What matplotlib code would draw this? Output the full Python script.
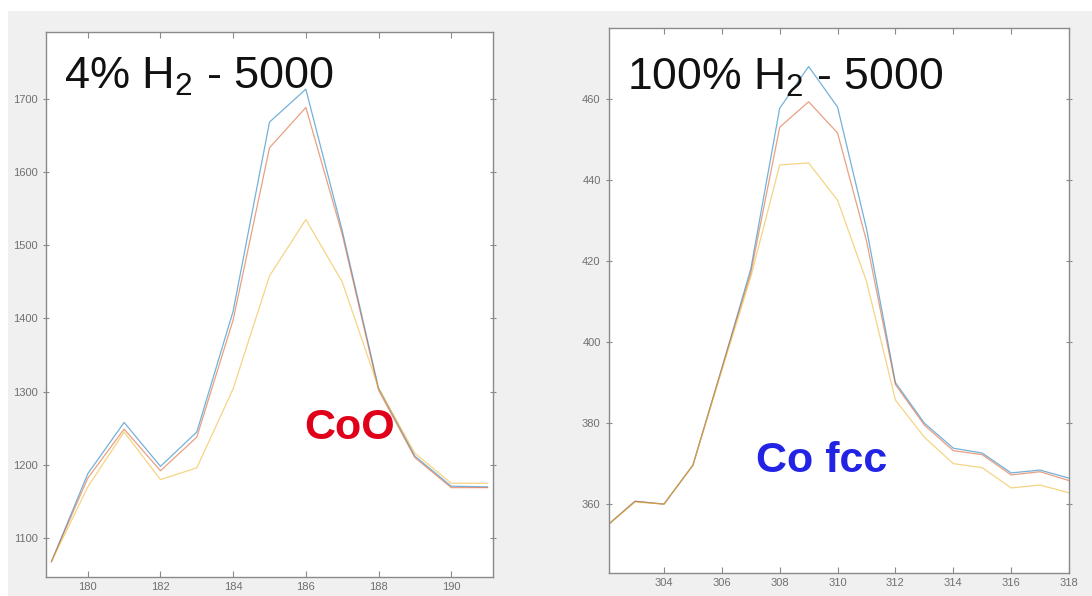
import numpy as np
import matplotlib
matplotlib.use('Agg')
import matplotlib.pyplot as plt
from matplotlib.patches import Rectangle

plt.rcParams['font.family'] = ['Liberation Sans', 'DejaVu Sans']
plt.rcParams['mathtext.fontset'] = 'custom'
plt.rcParams['mathtext.rm'] = 'Liberation Sans'
plt.rcParams['mathtext.it'] = 'Liberation Sans'

# left panel: 4% H2
x_left = [179, 180, 181, 182, 183, 184, 185, 186, 187, 188, 189, 190, 191]
blue_left = [1068, 1188, 1258, 1198, 1245, 1410, 1668, 1713, 1520, 1305, 1212, 1171, 1170]
red_left = [1068, 1182, 1249, 1192, 1238, 1398, 1633, 1688, 1515, 1302, 1210, 1169, 1169]
yellow_left = [1068, 1170, 1245, 1180, 1196, 1304, 1458, 1535, 1450, 1305, 1216, 1175, 1175]

# right panel: 100% H2
x_right = [302, 303, 304, 305, 306, 307, 308, 309, 310, 311, 312, 313, 314, 315, 316, 317, 318]
blue_right = [354.5, 360.7, 360.0, 369.6, 393.5, 418, 457.7, 468, 458, 428, 390, 380, 373.8, 372.6, 367.7, 368.4, 366.4]
red_right = [354.5, 360.7, 360.0, 369.6, 393.5, 417, 453, 459.3, 451.6, 425, 389.5, 379.5, 373.2, 372.2, 367.2, 368.0, 365.8]
yellow_right = [354.5, 360.5, 360.0, 369.6, 393, 416, 443.7, 444.2, 435, 415, 385.7, 376.5, 370, 369, 364, 364.7, 362.8]

colors = ['#0072BD', '#D95319', '#EDB120']

fig = plt.figure(figsize=(10.92, 5.96), dpi=100)
bg = Rectangle((8/1092, 0), 1 - 8/1092, 585/596, transform=fig.transFigure,
               facecolor='#f0f0f0', edgecolor='none', zorder=-10)
fig.patches.append(bg)

ax1 = fig.add_axes([46/1092, 19/596, 447/1092, 545/596])
ax2 = fig.add_axes([609/1092, 23/596, 460/1092, 545/596])

for ys, c in zip([blue_left, red_left, yellow_left], colors):
    ax1.plot(x_left, ys, color=c, lw=0.9, alpha=0.55)
for ys, c in zip([blue_right, red_right, yellow_right], colors):
    ax2.plot(x_right, ys, color=c, lw=0.9, alpha=0.55)

ax1.set_xlim(178.85, 191.15)
ax1.set_ylim(1047, 1791)
ax1.set_xticks([180, 182, 184, 186, 188, 190])
ax1.set_yticks([1100, 1200, 1300, 1400, 1500, 1600, 1700])

ax2.set_xlim(302.1, 318)
ax2.set_ylim(343, 477.5)
ax2.set_xticks([304, 306, 308, 310, 312, 314, 316, 318])
ax2.set_yticks([360, 380, 400, 420, 440, 460])

for ax in [ax1, ax2]:
    ax.set_facecolor('white')
    for s in ax.spines.values():
        s.set_color('#8a8a8a')
        s.set_linewidth(1.0)
    ax.tick_params(direction='in', length=4, width=0.8, color='#8a8a8a',
                   labelsize=8, labelcolor='#707070', top=True, right=True)
    ax.tick_params(axis='y', direction='inout', length=5)

ax1.text(0.04, 0.895, '4% H$_2$ - 5000', transform=ax1.transAxes,
         fontsize=32.5, color='#111111', va='baseline', ha='left')
ax1.text(0.68, 0.273, 'CoO', transform=ax1.transAxes, fontsize=31,
         fontweight='bold', color='#e0001a', ha='center', va='center')

ax2.text(0.04, 0.886, '100% H$_2$ - 5000', transform=ax2.transAxes,
         fontsize=32, color='#111111', va='baseline', ha='left')
ax2.text(0.462, 0.205, 'Co fcc', transform=ax2.transAxes, fontsize=31,
         fontweight='bold', color='#2323e6', ha='center', va='center')

fig.savefig('out.png', dpi=100, facecolor='white')
